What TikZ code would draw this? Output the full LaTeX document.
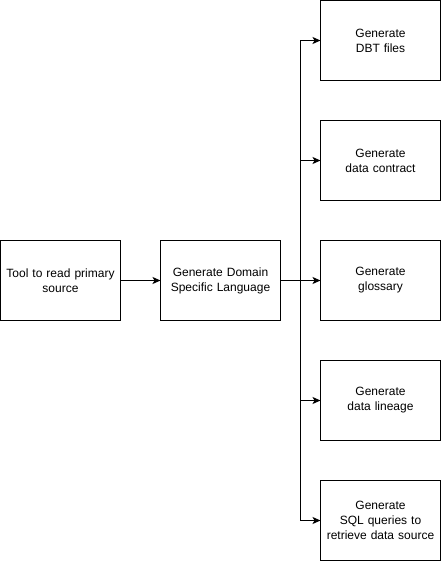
\documentclass[tikz,border=0pt]{standalone}
\usepackage{xcolor}
\usepackage{fontspec}
\setmainfont{Liberation Sans}
\usepackage{tikz}
\usetikzlibrary{calc, positioning, arrows.meta}
\tikzstyle{box}   = [rectangle, minimum width=120pt, minimum height=80pt, outer sep=0pt, inner sep=2pt, text width=114pt, align=center, draw=black, line width=1pt, font=\fontsize{12}{15}\selectfont]
\tikzstyle{arrow} = [line width=1pt,->,>={Stealth[length=8pt,width=7pt,inset=2pt]}]

\begin{document}
\begin{tikzpicture}[x=1pt, y=1pt, node distance=40pt]
    \node (tool)     [box] at (60,0) {Tool to read primary\\source};
    \node (dsl)      [box, right=of tool] {Generate Domain\\Specific Language};
    \node (glossary) [box, right=of dsl] {Generate\\glossary};
    \node (contract) [box, above=of glossary] {Generate\\data contract};
    \node (dbt)      [box, above=of contract] {Generate\\DBT files};
    \node (lineage)  [box, below=of glossary] {Generate\\data lineage};
    \node (sql)      [box, below=of lineage] {Generate\\SQL queries to\\retrieve data source};

    \useasboundingbox ($(tool.west |- dbt.north)+(-0.5,0.5)$) rectangle ($(sql.south east)+(0.5,-0.5)$);

    \coordinate (trunk) at ($(dsl.east)+(20,0)$);

    % arrows
    \draw [arrow] (tool) -- (dsl);
    \draw [arrow] (dsl) -- (glossary);
    \draw [arrow] (dsl.east) -- (trunk) |- (dbt.west);
    \draw [arrow] (dsl.east) -- (trunk) |- (contract.west);
    \draw [arrow] (dsl.east) -- (trunk) |- (lineage.west);
    \draw [arrow] (dsl.east) -- (trunk) |- (sql.west);

  \end{tikzpicture}
\end{document}
